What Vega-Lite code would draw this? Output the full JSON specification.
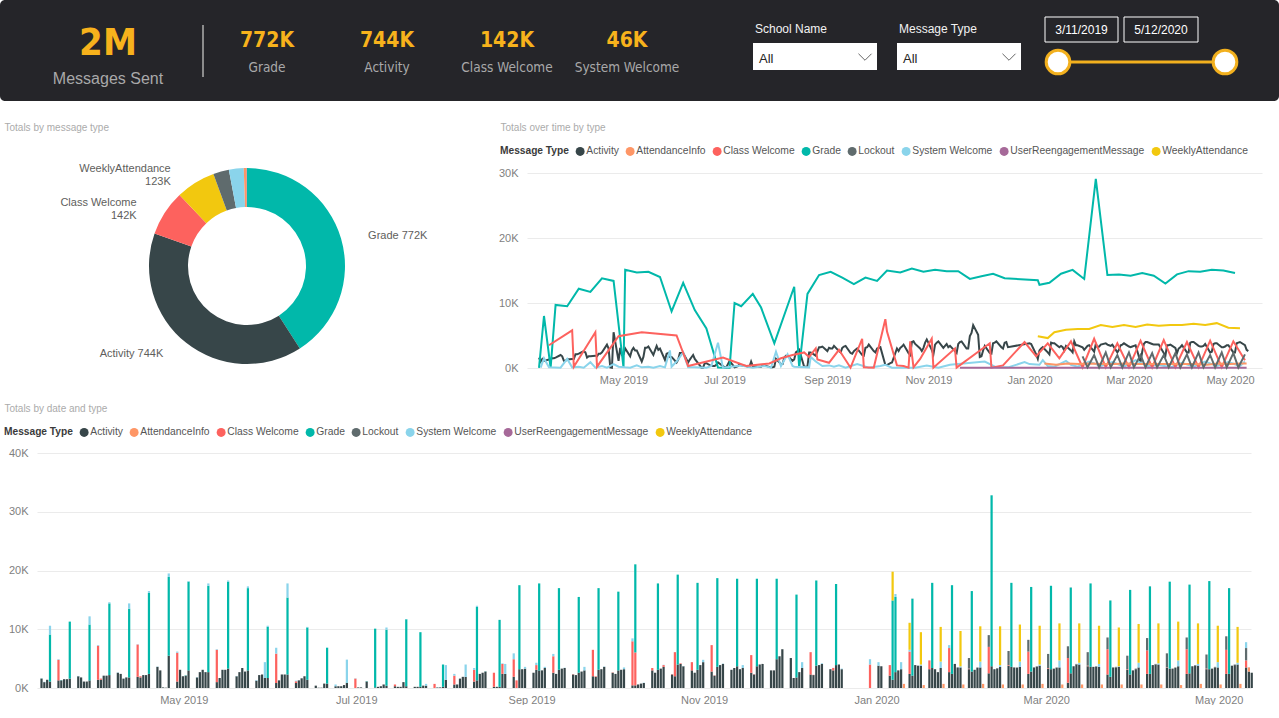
{
"$schema":"https://vega.github.io/schema/vega-lite/v6.json",
"padding":0,
"background":"#ffffff",
"bounds":"flush",
"spacing":72,
"resolve":{"legend":{"color":"independent"}},
"config":{
 "font":"Liberation Sans",
 "view":{"stroke":null},
 "axis":{"domain":false,"ticks":false,"grid":false,"labelColor":"#7F7F7F","labelFontSize":11,"titleColor":"#ABABAB","titleFontSize":10,"titleFontWeight":"normal","labelFont":"Liberation Sans","titleFont":"Liberation Sans"},
 "axisY":{"grid":true,"gridColor":"#EBEBEB"}
},
"datasets":{
"hdr":[
{"id":"big","text":"2M"},{"id":"bigcap","text":"Messages Sent"},
{"id":"k1","text":"772K"},{"id":"k2","text":"744K"},{"id":"k3","text":"142K"},{"id":"k4","text":"46K"},
{"id":"c1","text":"Grade"},{"id":"c2","text":"Activity"},{"id":"c3","text":"Class Welcome"},{"id":"c4","text":"System Welcome"},
{"id":"f1","text":"School Name"},{"id":"f2","text":"Message Type"},
{"id":"s1","text":"All"},{"id":"s2","text":"All"},
{"id":"d1","text":"3/11/2019"},{"id":"d2","text":"5/12/2020"}
],
"totals":[
{"t":"Grade","v":772000,"lbl":"Grade 772K"},
{"t":"Activity","v":744000,"lbl":"Activity 744K"},
{"t":"Class Welcome","v":142000,"lbl":"Class Welcome\n142K"},
{"t":"WeeklyAttendance","v":123000,"lbl":"WeeklyAttendance\n123K"},
{"t":"Lockout","v":49000,"lbl":""},
{"t":"System Welcome","v":46000,"lbl":""},
{"t":"AttendanceInfo","v":9000,"lbl":""},
{"t":"UserReengagementMessage","v":1000,"lbl":""}
],
"daily":[
{"d":"2019-03-11","Activity":1600,"Grade":30},
{"d":"2019-03-12","Activity":1000,"System Welcome":50},
{"d":"2019-03-13","Activity":1400},
{"d":"2019-03-14","Activity":1100,"Grade":8000,"System Welcome":1500},
{"d":"2019-03-17","Activity":1300,"Class Welcome":3500,"System Welcome":100},
{"d":"2019-03-18","Activity":1300,"Grade":30},
{"d":"2019-03-19","Activity":1500},
{"d":"2019-03-20","Activity":1500},
{"d":"2019-03-21","Activity":1600,"Grade":9700},
{"d":"2019-03-24","Activity":2000,"System Welcome":50},
{"d":"2019-03-25","Activity":1800},
{"d":"2019-03-26","Activity":1100},
{"d":"2019-03-27","Activity":1100},
{"d":"2019-03-28","Activity":1300,"Grade":9500,"System Welcome":1400},
{"d":"2019-03-31","Activity":1400,"Class Welcome":5800,"System Welcome":100},
{"d":"2019-04-01","Activity":1400,"Class Welcome":200},
{"d":"2019-04-02","Activity":2100},
{"d":"2019-04-03","Activity":2100},
{"d":"2019-04-04","Activity":2200,"Grade":12200,"System Welcome":200},
{"d":"2019-04-07","Activity":2600,"System Welcome":50},
{"d":"2019-04-08","Activity":2400},
{"d":"2019-04-09","Activity":1600},
{"d":"2019-04-10","Activity":1800},
{"d":"2019-04-11","Activity":1800,"Grade":11700,"System Welcome":900},
{"d":"2019-04-14","Activity":1900,"Class Welcome":5500,"System Welcome":50},
{"d":"2019-04-15","Activity":1800,"Class Welcome":200},
{"d":"2019-04-16","Activity":2200},
{"d":"2019-04-17","Activity":2200},
{"d":"2019-04-18","Activity":2400,"Grade":13800,"System Welcome":300},
{"d":"2019-04-21","Activity":3600,"System Welcome":50},
{"d":"2019-04-22","Activity":3000},
{"d":"2019-04-23","Activity":100},
{"d":"2019-04-24","Activity":50},
{"d":"2019-04-25","Activity":5500,"Grade":13400,"System Welcome":600},
{"d":"2019-04-28","Activity":1100,"Class Welcome":4900,"System Welcome":200},
{"d":"2019-04-29","Activity":3100},
{"d":"2019-04-30","Activity":2000},
{"d":"2019-05-01","Activity":2100,"Grade":50},
{"d":"2019-05-02","Activity":3000,"Grade":15100,"System Welcome":100},
{"d":"2019-05-05","Activity":1800,"System Welcome":50},
{"d":"2019-05-06","Activity":2700},
{"d":"2019-05-07","Activity":3100},
{"d":"2019-05-08","Activity":2700},
{"d":"2019-05-09","Activity":2700,"Grade":14700,"System Welcome":400},
{"d":"2019-05-12","Activity":1000,"Class Welcome":5500,"System Welcome":100},
{"d":"2019-05-13","Activity":1700},
{"d":"2019-05-14","Activity":3100},
{"d":"2019-05-15","Activity":3100},
{"d":"2019-05-16","Activity":3300,"Grade":14800,"System Welcome":200},
{"d":"2019-05-19","Activity":2000,"System Welcome":50},
{"d":"2019-05-20","Activity":2700},
{"d":"2019-05-21","Activity":3400},
{"d":"2019-05-22","Activity":2800},
{"d":"2019-05-23","Activity":3000,"Grade":14000,"System Welcome":300},
{"d":"2019-05-26","Activity":1250,"System Welcome":100},
{"d":"2019-05-27","Activity":2200},
{"d":"2019-05-28","Activity":2300},
{"d":"2019-05-29","Activity":1700,"System Welcome":2700},
{"d":"2019-05-30","Activity":1700,"Grade":8700,"System Welcome":200},
{"d":"2019-06-02","Activity":850,"Class Welcome":5000,"System Welcome":1000},
{"d":"2019-06-03","Activity":1300},
{"d":"2019-06-04","Activity":2300},
{"d":"2019-06-05","Activity":2300},
{"d":"2019-06-06","Activity":2300,"Grade":13100,"System Welcome":2400},
{"d":"2019-06-09","Activity":850,"Class Welcome":300,"System Welcome":100},
{"d":"2019-06-10","Activity":1300},
{"d":"2019-06-11","Activity":1650},
{"d":"2019-06-12","Activity":2000},
{"d":"2019-06-13","Activity":1400,"Grade":8900,"System Welcome":100},
{"d":"2019-06-16","Activity":400},
{"d":"2019-06-17","Activity":50},
{"d":"2019-06-18","Activity":50},
{"d":"2019-06-19","Activity":750},
{"d":"2019-06-20","Activity":750,"Grade":6100,"System Welcome":50},
{"d":"2019-06-23","Activity":300,"System Welcome":300},
{"d":"2019-06-24","Activity":300},
{"d":"2019-06-25","Activity":300},
{"d":"2019-06-26","Activity":500},
{"d":"2019-06-27","Activity":850,"Grade":80,"System Welcome":3900},
{"d":"2019-06-30","Class Welcome":1600,"System Welcome":50},
{"d":"2019-07-01","Activity":100},
{"d":"2019-07-02","Activity":100},
{"d":"2019-07-04","Activity":1100,"Grade":50},
{"d":"2019-07-07","Activity":100,"Grade":10000},
{"d":"2019-07-08","Activity":200},
{"d":"2019-07-09","Activity":300},
{"d":"2019-07-10","Activity":600},
{"d":"2019-07-11","Activity":400,"Grade":9500,"System Welcome":400},
{"d":"2019-07-14","Activity":300,"Class Welcome":300},
{"d":"2019-07-15","Activity":200},
{"d":"2019-07-16","Activity":200},
{"d":"2019-07-17","Activity":1000},
{"d":"2019-07-18","Activity":300,"Grade":11400,"System Welcome":50},
{"d":"2019-07-21","Activity":200},
{"d":"2019-07-22","Activity":200},
{"d":"2019-07-23","Activity":200,"Grade":9300},
{"d":"2019-07-24","Activity":400},
{"d":"2019-07-25","Activity":400,"System Welcome":300},
{"d":"2019-07-28","Class Welcome":700},
{"d":"2019-07-29","Activity":100,"System Welcome":50},
{"d":"2019-07-30","Activity":100},
{"d":"2019-07-31","Activity":200,"Grade":3800},
{"d":"2019-08-01","Activity":1400,"System Welcome":2500},
{"d":"2019-08-04","Activity":600,"Class Welcome":1500,"System Welcome":300},
{"d":"2019-08-05","Activity":600},
{"d":"2019-08-06","Activity":1600},
{"d":"2019-08-07","Activity":1900},
{"d":"2019-08-08","Activity":1900,"System Welcome":2100},
{"d":"2019-08-11","Activity":1100,"Class Welcome":2000,"System Welcome":300},
{"d":"2019-08-12","Activity":1300,"Grade":12500,"System Welcome":200},
{"d":"2019-08-13","Activity":2400},
{"d":"2019-08-14","Activity":2600},
{"d":"2019-08-15","Activity":2800,"Grade":30},
{"d":"2019-08-18","Activity":200,"Class Welcome":2400},
{"d":"2019-08-19","Activity":200},
{"d":"2019-08-20","Activity":200,"Grade":11400},
{"d":"2019-08-21","Activity":2400,"Class Welcome":1700,"System Welcome":100},
{"d":"2019-08-22","Activity":2400,"System Welcome":1700},
{"d":"2019-08-25","Activity":1900,"Class Welcome":3000,"System Welcome":1000},
{"d":"2019-08-26","Class Welcome":1300},
{"d":"2019-08-27","Activity":3200,"Grade":14300},
{"d":"2019-08-28","Activity":3200},
{"d":"2019-08-29","Activity":3300,"System Welcome":300},
{"d":"2019-09-01","Activity":2600},
{"d":"2019-09-02","Activity":3100,"Class Welcome":800,"System Welcome":400},
{"d":"2019-09-03","Activity":3000,"Grade":14800},
{"d":"2019-09-04","Activity":3000},
{"d":"2019-09-05","Activity":3400,"System Welcome":200},
{"d":"2019-09-08","Activity":2600,"Class Welcome":2800,"System Welcome":400},
{"d":"2019-09-09","Activity":2400},
{"d":"2019-09-10","Activity":3100,"Grade":13900},
{"d":"2019-09-11","Activity":3300},
{"d":"2019-09-12","Activity":3400,"System Welcome":50},
{"d":"2019-09-15","Activity":2300,"Class Welcome":50},
{"d":"2019-09-16","Activity":2200},
{"d":"2019-09-17","Activity":2600,"Grade":12900},
{"d":"2019-09-18","Activity":2800},
{"d":"2019-09-19","Activity":3000,"System Welcome":600},
{"d":"2019-09-22","Activity":2000,"Class Welcome":4500},
{"d":"2019-09-23","Activity":1900,"Class Welcome":100},
{"d":"2019-09-24","Activity":3100,"Grade":13900},
{"d":"2019-09-25","Activity":3200},
{"d":"2019-09-26","Activity":3600,"System Welcome":50},
{"d":"2019-09-29","Activity":2600,"Class Welcome":50},
{"d":"2019-09-30","Activity":2400},
{"d":"2019-10-01","Activity":3000,"Grade":13400},
{"d":"2019-10-02","Activity":3100},
{"d":"2019-10-03","Activity":3200,"System Welcome":300},
{"d":"2019-10-06","Activity":450,"Class Welcome":7500,"System Welcome":500},
{"d":"2019-10-07","Activity":450,"Class Welcome":5600,"Grade":15000},
{"d":"2019-10-08","Activity":600},
{"d":"2019-10-09","Activity":750},
{"d":"2019-10-10","Activity":850,"System Welcome":50},
{"d":"2019-10-13","Activity":3000,"Class Welcome":400},
{"d":"2019-10-14","Activity":2600},
{"d":"2019-10-15","Activity":3100,"Grade":14700},
{"d":"2019-10-16","Activity":3300},
{"d":"2019-10-17","Activity":3600,"Class Welcome":300,"System Welcome":50},
{"d":"2019-10-20","Activity":2300,"Class Welcome":50},
{"d":"2019-10-21","Activity":2000,"Class Welcome":4100},
{"d":"2019-10-22","Activity":4000,"Grade":15300},
{"d":"2019-10-23","Activity":4100,"Class Welcome":100},
{"d":"2019-10-24","Activity":3700,"System Welcome":50},
{"d":"2019-10-27","Activity":3000,"Class Welcome":1400},
{"d":"2019-10-28","Activity":2600},
{"d":"2019-10-29","Activity":3100,"Grade":14800},
{"d":"2019-10-30","Activity":3900},
{"d":"2019-10-31","Activity":4400,"System Welcome":400},
{"d":"2019-11-03","Activity":2800,"Class Welcome":4500},
{"d":"2019-11-04","Activity":2100,"Class Welcome":50},
{"d":"2019-11-05","Activity":3600,"Grade":15100},
{"d":"2019-11-06","Activity":3900},
{"d":"2019-11-07","Activity":4100,"System Welcome":50},
{"d":"2019-11-10","Activity":3100},
{"d":"2019-11-11","Activity":3400},
{"d":"2019-11-12","Activity":3700,"Grade":14900},
{"d":"2019-11-13","Activity":3200},
{"d":"2019-11-14","Activity":3400,"System Welcome":500},
{"d":"2019-11-17","Activity":2600,"Class Welcome":3000},
{"d":"2019-11-18","Activity":2300,"Class Welcome":50},
{"d":"2019-11-19","Activity":3700,"Grade":14900},
{"d":"2019-11-20","Activity":4000,"UserReengagementMessage":20},
{"d":"2019-11-21","Activity":4100},
{"d":"2019-11-24","Activity":3000},
{"d":"2019-11-25","Activity":3000},
{"d":"2019-11-26","Activity":4900,"Grade":13700},
{"d":"2019-11-27","Activity":5400},
{"d":"2019-11-28","Activity":6600},
{"d":"2019-12-01","Activity":5100},
{"d":"2019-12-02","Activity":1700},
{"d":"2019-12-03","Activity":1800,"Grade":14100},
{"d":"2019-12-04","Activity":2700},
{"d":"2019-12-05","Activity":3400,"System Welcome":1000},
{"d":"2019-12-08","Activity":2300,"Class Welcome":3800},
{"d":"2019-12-09","Activity":2200,"Class Welcome":50},
{"d":"2019-12-10","Activity":3800,"Grade":14500},
{"d":"2019-12-11","Activity":3900},
{"d":"2019-12-12","Activity":4100,"System Welcome":100},
{"d":"2019-12-15","Activity":3200},
{"d":"2019-12-16","Activity":3000,"Class Welcome":400,"UserReengagementMessage":20},
{"d":"2019-12-17","Activity":3900,"Grade":13800},
{"d":"2019-12-18","Activity":4000},
{"d":"2019-12-19","Activity":3200,"System Welcome":100},
{"d":"2019-12-29","Class Welcome":4000,"System Welcome":900},
{"d":"2020-01-01","Activity":3800,"System Welcome":600},
{"d":"2020-01-02","Activity":3700},
{"d":"2020-01-05","Activity":2100,"Class Welcome":1800},
{"d":"2020-01-06","Activity":1400,"Grade":13500,"WeeklyAttendance":4900},
{"d":"2020-01-07","Activity":2700,"Grade":12800,"System Welcome":500},
{"d":"2020-01-08","Activity":3000},
{"d":"2020-01-09","Activity":3200,"System Welcome":1200},
{"d":"2020-01-10","AttendanceInfo":700},
{"d":"2020-01-12","Activity":2400,"Class Welcome":3800,"System Welcome":300,"WeeklyAttendance":4600},
{"d":"2020-01-13","Activity":2100,"Grade":13100,"UserReengagementMessage":20},
{"d":"2020-01-14","Activity":3900},
{"d":"2020-01-15","Activity":3800},
{"d":"2020-01-16","Activity":3800,"System Welcome":200,"WeeklyAttendance":5500},
{"d":"2020-01-17","AttendanceInfo":500},
{"d":"2020-01-19","Activity":3200,"Class Welcome":1500},
{"d":"2020-01-20","Activity":3400,"Grade":14500},
{"d":"2020-01-21","Activity":3200},
{"d":"2020-01-22","Activity":2700},
{"d":"2020-01-23","Activity":3400,"System Welcome":1100,"WeeklyAttendance":5900},
{"d":"2020-01-24","AttendanceInfo":700},
{"d":"2020-01-26","Activity":2700,"Class Welcome":4100,"System Welcome":500},
{"d":"2020-01-27","Activity":2400,"Grade":15100},
{"d":"2020-01-28","Activity":4100},
{"d":"2020-01-29","Activity":3500},
{"d":"2020-01-30","Activity":3500,"System Welcome":200,"WeeklyAttendance":6000},
{"d":"2020-01-31","AttendanceInfo":600},
{"d":"2020-02-02","Activity":3200,"Class Welcome":100,"Lockout":1800},
{"d":"2020-02-03","Activity":2800,"Grade":13700},
{"d":"2020-02-04","Activity":3100},
{"d":"2020-02-05","Activity":3400,"Lockout":100},
{"d":"2020-02-06","Activity":3500,"System Welcome":1000,"WeeklyAttendance":6000},
{"d":"2020-02-07","AttendanceInfo":700},
{"d":"2020-02-09","Activity":2500,"Class Welcome":4500,"Lockout":2000},
{"d":"2020-02-10","Activity":3700,"Grade":29100},
{"d":"2020-02-11","Activity":3200},
{"d":"2020-02-12","Activity":3300,"Lockout":100},
{"d":"2020-02-13","Activity":3600,"System Welcome":300,"WeeklyAttendance":6600},
{"d":"2020-02-14","AttendanceInfo":600},
{"d":"2020-02-16","Activity":3800,"Class Welcome":100,"Lockout":2400},
{"d":"2020-02-17","Activity":3600,"Grade":14300},
{"d":"2020-02-18","Activity":3500},
{"d":"2020-02-19","Activity":3400,"Lockout":100},
{"d":"2020-02-20","Activity":3600,"System Welcome":900,"WeeklyAttendance":6300},
{"d":"2020-02-21","AttendanceInfo":600},
{"d":"2020-02-23","Activity":2400,"Class Welcome":3800,"Lockout":2000},
{"d":"2020-02-24","Activity":2800,"Grade":14400},
{"d":"2020-02-25","Activity":3500},
{"d":"2020-02-26","Activity":3600,"Lockout":100},
{"d":"2020-02-27","Activity":3800,"System Welcome":200,"WeeklyAttendance":6600},
{"d":"2020-02-28","AttendanceInfo":700},
{"d":"2020-03-01","Activity":3300,"Class Welcome":100,"Lockout":2400},
{"d":"2020-03-02","Activity":3200,"Grade":14200},
{"d":"2020-03-03","Activity":3300},
{"d":"2020-03-04","Activity":3400,"Lockout":100},
{"d":"2020-03-05","Activity":3500,"System Welcome":1200,"WeeklyAttendance":6300},
{"d":"2020-03-06","AttendanceInfo":600},
{"d":"2020-03-08","Activity":900,"Class Welcome":4200,"Lockout":2000},
{"d":"2020-03-09","Activity":2500,"Grade":14600,"UserReengagementMessage":20},
{"d":"2020-03-10","Activity":3700},
{"d":"2020-03-11","Activity":4000,"Lockout":100},
{"d":"2020-03-12","Activity":4000,"System Welcome":300,"WeeklyAttendance":6700},
{"d":"2020-03-13","AttendanceInfo":600},
{"d":"2020-03-15","Activity":3700,"Class Welcome":100,"Lockout":2300},
{"d":"2020-03-16","Activity":3600,"Grade":14200},
{"d":"2020-03-17","Activity":3600},
{"d":"2020-03-18","Activity":3600,"Lockout":100},
{"d":"2020-03-19","Activity":3600,"System Welcome":500,"WeeklyAttendance":6500},
{"d":"2020-03-20","AttendanceInfo":600},
{"d":"2020-03-22","Activity":2300,"Class Welcome":4300,"Lockout":2000},
{"d":"2020-03-23","Activity":1900,"Grade":13000},
{"d":"2020-03-24","Activity":3500},
{"d":"2020-03-25","Activity":3500,"Lockout":100},
{"d":"2020-03-26","Activity":3600,"System Welcome":100,"WeeklyAttendance":6600},
{"d":"2020-03-27","AttendanceInfo":600},
{"d":"2020-03-29","Activity":3100,"Class Welcome":100,"Lockout":2300},
{"d":"2020-03-30","Activity":2300,"Grade":14400},
{"d":"2020-03-31","Activity":3000},
{"d":"2020-04-01","Activity":3200,"Lockout":100},
{"d":"2020-04-02","Activity":3500,"System Welcome":800,"WeeklyAttendance":6600},
{"d":"2020-04-03","AttendanceInfo":600},
{"d":"2020-04-05","Activity":2400,"Class Welcome":4000,"Lockout":2100},
{"d":"2020-04-06","Activity":2400,"Grade":14900,"UserReengagementMessage":20},
{"d":"2020-04-07","Activity":3900},
{"d":"2020-04-08","Activity":4000,"Lockout":100},
{"d":"2020-04-09","Activity":4000,"System Welcome":200,"WeeklyAttendance":6800},
{"d":"2020-04-10","AttendanceInfo":600},
{"d":"2020-04-12","Activity":3400,"Class Welcome":100,"Lockout":2400},
{"d":"2020-04-13","Activity":3300,"Grade":14800},
{"d":"2020-04-14","Activity":3300},
{"d":"2020-04-15","Activity":3400,"Lockout":100},
{"d":"2020-04-16","Activity":3700,"System Welcome":1000,"WeeklyAttendance":6600},
{"d":"2020-04-17","AttendanceInfo":500},
{"d":"2020-04-19","Activity":2400,"Class Welcome":4200,"Lockout":2000},
{"d":"2020-04-20","Activity":2500,"Grade":15100},
{"d":"2020-04-21","Activity":3700},
{"d":"2020-04-22","Activity":3800,"Lockout":100},
{"d":"2020-04-23","Activity":3800,"System Welcome":300,"WeeklyAttendance":6900},
{"d":"2020-04-24","AttendanceInfo":700},
{"d":"2020-04-26","Activity":3200,"Class Welcome":100,"Lockout":2400},
{"d":"2020-04-27","Activity":3200,"Grade":15000},
{"d":"2020-04-28","Activity":3300},
{"d":"2020-04-29","Activity":3500,"Lockout":100},
{"d":"2020-04-30","Activity":3500,"System Welcome":900,"WeeklyAttendance":6200},
{"d":"2020-05-01","AttendanceInfo":600},
{"d":"2020-05-03","Activity":2400,"Class Welcome":4100,"Lockout":2300},
{"d":"2020-05-04","Activity":2400,"Grade":14600,"UserReengagementMessage":20},
{"d":"2020-05-05","Activity":3800},
{"d":"2020-05-06","Activity":3900,"Lockout":100},
{"d":"2020-05-07","Activity":4000,"System Welcome":300,"WeeklyAttendance":6100},
{"d":"2020-05-08","AttendanceInfo":700},
{"d":"2020-05-10","Activity":3500,"Class Welcome":1200,"Lockout":2100,"System Welcome":1000},
{"d":"2020-05-11","Activity":2800,"AttendanceInfo":700,"UserReengagementMessage":20},
{"d":"2020-05-12","Activity":2600}
]
},
"vconcat":[
{
 "width":1279,"height":101,
 "view":{"fill":"#252529","cornerRadius":5,"stroke":null},
 "data":{"name":"hdr"},
 "layer":[
  {"transform":[{"filter":"datum.id=='big'"}],"mark":{"type":"text","font":"Liberation Sans Narrow, DejaVu Sans Condensed, Roboto","fontWeight":"bold","fontSize":38,"color":"#F7B21C","align":"center","baseline":"alphabetic"},
   "encoding":{"x":{"datum":108,"type":"quantitative","scale":{"domain":[0,1279],"nice":false,"zero":false},"axis":null},"y":{"datum":55,"type":"quantitative","scale":{"domain":[0,101],"nice":false,"zero":false,"reverse":true},"axis":null},"text":{"field":"text"}}},
  {"transform":[{"filter":"datum.id=='bigcap'"}],"mark":{"type":"text","fontSize":16,"color":"#A9A9A9","align":"center","baseline":"alphabetic"},
   "encoding":{"x":{"datum":108,"type":"quantitative","scale":{"domain":[0,1279],"nice":false,"zero":false},"axis":null},"y":{"datum":84,"type":"quantitative","scale":{"domain":[0,101],"nice":false,"zero":false,"reverse":true},"axis":null},"text":{"field":"text"}}},
  {"transform":[{"filter":"datum.id=='big'"}],"mark":{"type":"rule","color":"#8C8C8C","strokeWidth":2},
   "encoding":{"x":{"datum":203,"type":"quantitative","scale":{"domain":[0,1279],"nice":false,"zero":false},"axis":null},"y":{"datum":25,"type":"quantitative","scale":{"domain":[0,101],"nice":false,"zero":false,"reverse":true},"axis":null},"y2":{"datum":77}}},
  {"transform":[{"filter":"datum.id=='k1'"}],"mark":{"type":"text","font":"Liberation Sans Narrow, DejaVu Sans Condensed, Roboto","fontWeight":"bold","fontSize":21,"color":"#F7B21C","align":"center","baseline":"alphabetic"},
   "encoding":{"x":{"datum":267,"type":"quantitative","scale":{"domain":[0,1279],"nice":false,"zero":false},"axis":null},"y":{"datum":47,"type":"quantitative","scale":{"domain":[0,101],"nice":false,"zero":false,"reverse":true},"axis":null},"text":{"field":"text"}}},
  {"transform":[{"filter":"datum.id=='k2'"}],"mark":{"type":"text","font":"Liberation Sans Narrow, DejaVu Sans Condensed, Roboto","fontWeight":"bold","fontSize":21,"color":"#F7B21C","align":"center","baseline":"alphabetic"},
   "encoding":{"x":{"datum":387,"type":"quantitative","scale":{"domain":[0,1279],"nice":false,"zero":false},"axis":null},"y":{"datum":47,"type":"quantitative","scale":{"domain":[0,101],"nice":false,"zero":false,"reverse":true},"axis":null},"text":{"field":"text"}}},
  {"transform":[{"filter":"datum.id=='k3'"}],"mark":{"type":"text","font":"Liberation Sans Narrow, DejaVu Sans Condensed, Roboto","fontWeight":"bold","fontSize":21,"color":"#F7B21C","align":"center","baseline":"alphabetic"},
   "encoding":{"x":{"datum":507,"type":"quantitative","scale":{"domain":[0,1279],"nice":false,"zero":false},"axis":null},"y":{"datum":47,"type":"quantitative","scale":{"domain":[0,101],"nice":false,"zero":false,"reverse":true},"axis":null},"text":{"field":"text"}}},
  {"transform":[{"filter":"datum.id=='k4'"}],"mark":{"type":"text","font":"Liberation Sans Narrow, DejaVu Sans Condensed, Roboto","fontWeight":"bold","fontSize":21,"color":"#F7B21C","align":"center","baseline":"alphabetic"},
   "encoding":{"x":{"datum":627,"type":"quantitative","scale":{"domain":[0,1279],"nice":false,"zero":false},"axis":null},"y":{"datum":47,"type":"quantitative","scale":{"domain":[0,101],"nice":false,"zero":false,"reverse":true},"axis":null},"text":{"field":"text"}}},
  {"transform":[{"filter":"datum.id=='c1'"}],"mark":{"type":"text","font":"Liberation Sans Narrow, DejaVu Sans Condensed, Roboto","fontSize":13.5,"color":"#A9A9A9","align":"center","baseline":"alphabetic"},
   "encoding":{"x":{"datum":267,"type":"quantitative","scale":{"domain":[0,1279],"nice":false,"zero":false},"axis":null},"y":{"datum":72,"type":"quantitative","scale":{"domain":[0,101],"nice":false,"zero":false,"reverse":true},"axis":null},"text":{"field":"text"}}},
  {"transform":[{"filter":"datum.id=='c2'"}],"mark":{"type":"text","font":"Liberation Sans Narrow, DejaVu Sans Condensed, Roboto","fontSize":13.5,"color":"#A9A9A9","align":"center","baseline":"alphabetic"},
   "encoding":{"x":{"datum":387,"type":"quantitative","scale":{"domain":[0,1279],"nice":false,"zero":false},"axis":null},"y":{"datum":72,"type":"quantitative","scale":{"domain":[0,101],"nice":false,"zero":false,"reverse":true},"axis":null},"text":{"field":"text"}}},
  {"transform":[{"filter":"datum.id=='c3'"}],"mark":{"type":"text","font":"Liberation Sans Narrow, DejaVu Sans Condensed, Roboto","fontSize":13.5,"color":"#A9A9A9","align":"center","baseline":"alphabetic"},
   "encoding":{"x":{"datum":507,"type":"quantitative","scale":{"domain":[0,1279],"nice":false,"zero":false},"axis":null},"y":{"datum":72,"type":"quantitative","scale":{"domain":[0,101],"nice":false,"zero":false,"reverse":true},"axis":null},"text":{"field":"text"}}},
  {"transform":[{"filter":"datum.id=='c4'"}],"mark":{"type":"text","font":"Liberation Sans Narrow, DejaVu Sans Condensed, Roboto","fontSize":13.5,"color":"#A9A9A9","align":"center","baseline":"alphabetic"},
   "encoding":{"x":{"datum":627,"type":"quantitative","scale":{"domain":[0,1279],"nice":false,"zero":false},"axis":null},"y":{"datum":72,"type":"quantitative","scale":{"domain":[0,101],"nice":false,"zero":false,"reverse":true},"axis":null},"text":{"field":"text"}}},
  {"transform":[{"filter":"datum.id=='f1'"}],"mark":{"type":"text","fontSize":12,"color":"#F2F2F2","align":"left","baseline":"alphabetic"},
   "encoding":{"x":{"datum":755,"type":"quantitative","scale":{"domain":[0,1279],"nice":false,"zero":false},"axis":null},"y":{"datum":33,"type":"quantitative","scale":{"domain":[0,101],"nice":false,"zero":false,"reverse":true},"axis":null},"text":{"field":"text"}}},
  {"transform":[{"filter":"datum.id=='f2'"}],"mark":{"type":"text","fontSize":12,"color":"#F2F2F2","align":"left","baseline":"alphabetic"},
   "encoding":{"x":{"datum":899,"type":"quantitative","scale":{"domain":[0,1279],"nice":false,"zero":false},"axis":null},"y":{"datum":33,"type":"quantitative","scale":{"domain":[0,101],"nice":false,"zero":false,"reverse":true},"axis":null},"text":{"field":"text"}}},
  {"transform":[{"filter":"datum.id=='s1'"}],"mark":{"type":"rect","fill":"#FFFFFF"},
   "encoding":{"x":{"datum":753,"type":"quantitative","scale":{"domain":[0,1279],"nice":false,"zero":false},"axis":null},"x2":{"datum":877},"y":{"datum":43,"type":"quantitative","scale":{"domain":[0,101],"nice":false,"zero":false,"reverse":true},"axis":null},"y2":{"datum":70}}},
  {"transform":[{"filter":"datum.id=='s2'"}],"mark":{"type":"rect","fill":"#FFFFFF"},
   "encoding":{"x":{"datum":897,"type":"quantitative","scale":{"domain":[0,1279],"nice":false,"zero":false},"axis":null},"x2":{"datum":1021},"y":{"datum":43,"type":"quantitative","scale":{"domain":[0,101],"nice":false,"zero":false,"reverse":true},"axis":null},"y2":{"datum":70}}},
  {"transform":[{"filter":"datum.id=='s1'"}],"mark":{"type":"text","fontSize":13,"color":"#252423","align":"left","baseline":"alphabetic"},
   "encoding":{"x":{"datum":759,"type":"quantitative","scale":{"domain":[0,1279],"nice":false,"zero":false},"axis":null},"y":{"datum":63,"type":"quantitative","scale":{"domain":[0,101],"nice":false,"zero":false,"reverse":true},"axis":null},"text":{"field":"text"}}},
  {"transform":[{"filter":"datum.id=='s2'"}],"mark":{"type":"text","fontSize":13,"color":"#252423","align":"left","baseline":"alphabetic"},
   "encoding":{"x":{"datum":903,"type":"quantitative","scale":{"domain":[0,1279],"nice":false,"zero":false},"axis":null},"y":{"datum":63,"type":"quantitative","scale":{"domain":[0,101],"nice":false,"zero":false,"reverse":true},"axis":null},"text":{"field":"text"}}},
  {"transform":[{"filter":"datum.id=='s1'"}],"mark":{"type":"point","shape":"M-1,-0.5L0,0.5L1,-0.5","filled":false,"size":170,"stroke":"#666666","strokeWidth":1,"opacity":1},
   "encoding":{"x":{"datum":865,"type":"quantitative","scale":{"domain":[0,1279],"nice":false,"zero":false},"axis":null},"y":{"datum":57,"type":"quantitative","scale":{"domain":[0,101],"nice":false,"zero":false,"reverse":true},"axis":null}}},
  {"transform":[{"filter":"datum.id=='s2'"}],"mark":{"type":"point","shape":"M-1,-0.5L0,0.5L1,-0.5","filled":false,"size":170,"stroke":"#666666","strokeWidth":1,"opacity":1},
   "encoding":{"x":{"datum":1009,"type":"quantitative","scale":{"domain":[0,1279],"nice":false,"zero":false},"axis":null},"y":{"datum":57,"type":"quantitative","scale":{"domain":[0,101],"nice":false,"zero":false,"reverse":true},"axis":null}}},
  {"transform":[{"filter":"datum.id=='d1'"}],"mark":{"type":"rect","fill":"transparent","stroke":"#FFFFFF","strokeWidth":1},
   "encoding":{"x":{"datum":1045,"type":"quantitative","scale":{"domain":[0,1279],"nice":false,"zero":false},"axis":null},"x2":{"datum":1118},"y":{"datum":17,"type":"quantitative","scale":{"domain":[0,101],"nice":false,"zero":false,"reverse":true},"axis":null},"y2":{"datum":42}}},
  {"transform":[{"filter":"datum.id=='d2'"}],"mark":{"type":"rect","fill":"transparent","stroke":"#FFFFFF","strokeWidth":1},
   "encoding":{"x":{"datum":1124,"type":"quantitative","scale":{"domain":[0,1279],"nice":false,"zero":false},"axis":null},"x2":{"datum":1198},"y":{"datum":17,"type":"quantitative","scale":{"domain":[0,101],"nice":false,"zero":false,"reverse":true},"axis":null},"y2":{"datum":42}}},
  {"transform":[{"filter":"datum.id=='d1'"}],"mark":{"type":"text","fontSize":12,"color":"#FFFFFF","align":"center","baseline":"alphabetic"},
   "encoding":{"x":{"datum":1081.5,"type":"quantitative","scale":{"domain":[0,1279],"nice":false,"zero":false},"axis":null},"y":{"datum":34,"type":"quantitative","scale":{"domain":[0,101],"nice":false,"zero":false,"reverse":true},"axis":null},"text":{"field":"text"}}},
  {"transform":[{"filter":"datum.id=='d2'"}],"mark":{"type":"text","fontSize":12,"color":"#FFFFFF","align":"center","baseline":"alphabetic"},
   "encoding":{"x":{"datum":1161,"type":"quantitative","scale":{"domain":[0,1279],"nice":false,"zero":false},"axis":null},"y":{"datum":34,"type":"quantitative","scale":{"domain":[0,101],"nice":false,"zero":false,"reverse":true},"axis":null},"text":{"field":"text"}}},
  {"transform":[{"filter":"datum.id=='d1'"}],"mark":{"type":"rule","color":"#F2B01E","strokeWidth":3},
   "encoding":{"x":{"datum":1058,"type":"quantitative","scale":{"domain":[0,1279],"nice":false,"zero":false},"axis":null},"x2":{"datum":1225},"y":{"datum":62,"type":"quantitative","scale":{"domain":[0,101],"nice":false,"zero":false,"reverse":true},"axis":null}}},
  {"transform":[{"filter":"datum.id=='d1'"}],"mark":{"type":"point","shape":"circle","filled":true,"size":560,"fill":"#FFFFFF","stroke":"#F2B01E","strokeWidth":3,"opacity":1},
   "encoding":{"x":{"datum":1058,"type":"quantitative","scale":{"domain":[0,1279],"nice":false,"zero":false},"axis":null},"y":{"datum":62,"type":"quantitative","scale":{"domain":[0,101],"nice":false,"zero":false,"reverse":true},"axis":null}}},
  {"transform":[{"filter":"datum.id=='d2'"}],"mark":{"type":"point","shape":"circle","filled":true,"size":560,"fill":"#FFFFFF","stroke":"#F2B01E","strokeWidth":3,"opacity":1},
   "encoding":{"x":{"datum":1225,"type":"quantitative","scale":{"domain":[0,1279],"nice":false,"zero":false},"axis":null},"y":{"datum":62,"type":"quantitative","scale":{"domain":[0,101],"nice":false,"zero":false,"reverse":true},"axis":null}}}
 ]
},
{
 "width":1262,"height":195,
 "layer":[
  {"data":{"name":"totals"},
   "mark":{"type":"arc","innerRadius":59,"outerRadius":98},
   "encoding":{"x":{"value":247},"y":{"value":93},
    "theta":{"field":"v","type":"quantitative","stack":true},
    "order":{"field":"v","sort":"descending"},
    "color":{"field":"t","type":"nominal","scale":{"domain":["Activity","AttendanceInfo","Class Welcome","Grade","Lockout","System Welcome","UserReengagementMessage","WeeklyAttendance"],"range":["#374649","#FE9666","#FD625E","#01B8AA","#5F6B6D","#8AD4EB","#A66999","#F2C80F"]}}}},
  {"data":{"name":"totals"},
   "mark":{"type":"text","align":"left","baseline":"middle","radius":122,"dx":4,"dy":4,"fontSize":11,"color":"#605E5C","lineBreak":"\n"},
   "encoding":{"x":{"value":247},"y":{"value":93},
    "theta":{"field":"v","type":"quantitative","stack":true},
    "order":{"field":"v","sort":"descending"},
    "text":{"condition":{"test":"datum.t=='Grade'","field":"lbl"},"value":""}}},
  {"data":{"name":"totals"},
   "mark":{"type":"text","align":"right","baseline":"middle","radius":122,"dx":-8,"dy":-8,"fontSize":11,"color":"#605E5C","lineBreak":"\n"},
   "encoding":{"x":{"value":247},"y":{"value":93},
    "theta":{"field":"v","type":"quantitative","stack":true},
    "order":{"field":"v","sort":"descending"},
    "text":{"condition":{"test":"datum.t=='Activity'","field":"lbl"},"value":""}}},
  {"data":{"name":"totals"},
   "mark":{"type":"text","align":"right","baseline":"middle","radius":122,"dx":-8,"dy":3,"fontSize":11,"color":"#605E5C","lineBreak":"\n"},
   "encoding":{"x":{"value":247},"y":{"value":93},
    "theta":{"field":"v","type":"quantitative","stack":true},
    "order":{"field":"v","sort":"descending"},
    "text":{"condition":{"test":"datum.t=='Class Welcome'","field":"lbl"},"value":""}}},
  {"data":{"name":"totals"},
   "mark":{"type":"text","align":"right","baseline":"middle","radius":122,"dx":-12,"dy":7,"fontSize":11,"color":"#605E5C","lineBreak":"\n"},
   "encoding":{"x":{"value":247},"y":{"value":93},
    "theta":{"field":"v","type":"quantitative","stack":true},
    "order":{"field":"v","sort":"descending"},
    "text":{"condition":{"test":"datum.t=='WeeklyAttendance'","field":"lbl"},"value":""}}},
  {"data":{"name":"daily"},
   "transform":[{"fold":["Activity","AttendanceInfo","Class Welcome","Grade","Lockout","System Welcome","UserReengagementMessage","WeeklyAttendance"],"as":["t","v"]},{"filter":"isValid(datum.v)"}],
   "mark":{"type":"line","strokeWidth":2},
   "encoding":{
    "x":{"field":"d","type":"temporal","scale":{"type":"utc","domain":[{"year":2019,"month":3,"date":3,"hours":18,"utc":true},{"year":2020,"month":5,"date":20,"hours":7,"utc":true}],"range":[527,1262]},
     "axis":{"values":[{"year":2019,"month":5,"date":1,"utc":true},{"year":2019,"month":7,"date":1,"utc":true},{"year":2019,"month":9,"date":1,"utc":true},{"year":2019,"month":11,"date":1,"utc":true},{"year":2020,"month":1,"date":1,"utc":true},{"year":2020,"month":3,"date":1,"utc":true},{"year":2020,"month":5,"date":1,"utc":true}],"format":"%b %Y","labelPadding":6,"labelFlush":false,"labelOverlap":false,"title":"Totals over time by type","titleX":500,"titleY":-241,"titleAngle":0,"titleAlign":"left","titleBaseline":"middle"}},
    "y":{"field":"v","type":"quantitative","scale":{"domain":[0,30000],"nice":false},
     "axis":{"offset":-527,"values":[0,10000,20000,30000],"labelExpr":"datum.value/1000 + 'K'","labelPadding":9,"title":"Totals by message type","titleX":-523,"titleY":-46,"titleAngle":0,"titleAlign":"left","titleBaseline":"middle"}},
    "color":{"field":"t","type":"nominal","scale":{"domain":["Activity","AttendanceInfo","Class Welcome","Grade","Lockout","System Welcome","UserReengagementMessage","WeeklyAttendance"],"range":["#374649","#FE9666","#FD625E","#01B8AA","#5F6B6D","#8AD4EB","#A66999","#F2C80F"]},
     "legend":{"orient":"none","legendX":500,"legendY":-27,"direction":"horizontal","columns":8,"title":"Message Type","titleOrient":"left","titleFontSize":10.2,"titleFontWeight":"bold","titleColor":"#3B3B3B","titlePadding":6,"labelFontSize":10.3,"labelColor":"#555555","symbolType":"circle","symbolSize":80,"symbolStrokeWidth":0,"labelOffset":1,"columnPadding":6,"padding":0,
      "encode":{"symbols":{"update":{"fill":{"scale":"color","field":"value"},"opacity":{"value":1}}}}}}
   }}
 ]
},
{
 "width":1251,"height":248,
 "data":{"name":"daily"},
 "transform":[{"fold":["Activity","AttendanceInfo","Class Welcome","Grade","Lockout","System Welcome","UserReengagementMessage","WeeklyAttendance"],"as":["t","v"]},{"filter":"isValid(datum.v)"}],
 "mark":{"type":"bar","binSpacing":0.6},
 "encoding":{
  "x":{"field":"d","timeUnit":"utcyearmonthdate","type":"temporal","scale":{"type":"utc","domain":[{"year":2019,"month":3,"date":10,"hours":2,"utc":true},{"year":2020,"month":5,"date":12,"hours":10,"utc":true}],"range":[37,1251]},
   "axis":{"values":[{"year":2019,"month":5,"date":1,"utc":true},{"year":2019,"month":7,"date":1,"utc":true},{"year":2019,"month":9,"date":1,"utc":true},{"year":2019,"month":11,"date":1,"utc":true},{"year":2020,"month":1,"date":1,"utc":true},{"year":2020,"month":3,"date":1,"utc":true},{"year":2020,"month":5,"date":1,"utc":true}],"format":"%b %Y","labelPadding":6,"labelFlush":false,"labelOverlap":false,"title":null}},
  "y":{"field":"v","type":"quantitative","stack":"zero","scale":{"domain":[0,42213],"nice":false},
   "axis":{"offset":-37,"values":[0,10000,20000,30000,40000],"labelExpr":"datum.value/1000 + 'K'","labelPadding":9,"title":"Totals by date and type","titleX":-33,"titleY":-32,"titleAngle":0,"titleAlign":"left","titleBaseline":"middle"}},
  "order":{"field":"t","sort":"ascending"},
  "color":{"field":"t","type":"nominal","scale":{"domain":["Activity","AttendanceInfo","Class Welcome","Grade","Lockout","System Welcome","UserReengagementMessage","WeeklyAttendance"],"range":["#374649","#FE9666","#FD625E","#01B8AA","#5F6B6D","#8AD4EB","#A66999","#F2C80F"]},
   "legend":{"orient":"none","legendX":4,"legendY":-13,"direction":"horizontal","columns":8,"title":"Message Type","titleOrient":"left","titleFontSize":10.2,"titleFontWeight":"bold","titleColor":"#3B3B3B","titlePadding":6,"labelFontSize":10.3,"labelColor":"#555555","symbolType":"circle","symbolSize":80,"symbolStrokeWidth":0,"labelOffset":1,"columnPadding":6,"padding":0}}
 }
}
]
}
